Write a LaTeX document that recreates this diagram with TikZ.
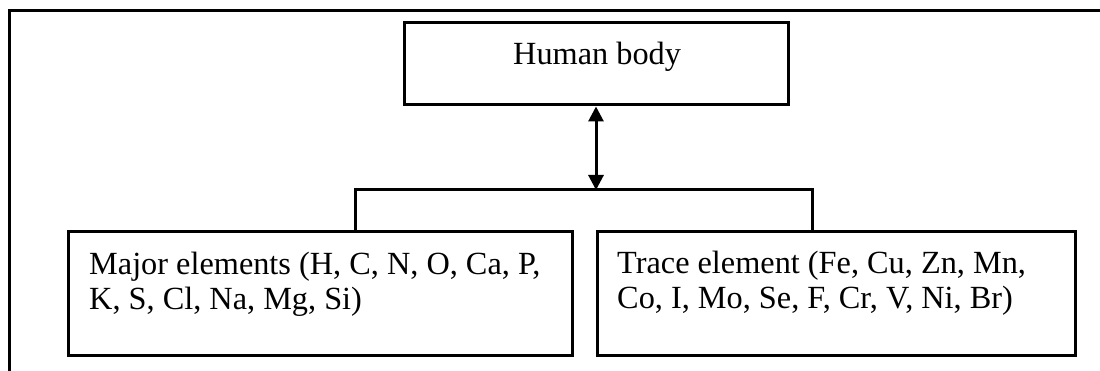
\documentclass[tikz,border=0pt]{standalone}
\usepackage{fontspec}
\setmainfont{Liberation Serif}
\usetikzlibrary{arrows.meta}
\begin{document}
\begin{tikzpicture}[x=1pt,y=-1pt,
  boxnode/.style={draw, line width=3pt, rectangle, inner sep=0pt},
  label/.style={inner sep=0pt, anchor=base west, align=left,
    font=\fontsize{32.3}{35.5}\selectfont},
  link/.style={line width=3pt},
  dblarrow/.style={line width=3pt, {Triangle[width=15pt,length=15pt]}-{Triangle[width=15pt,length=15pt]}}]
\useasboundingbox (0,0) rectangle (1100,371);
% outer frame (left and top only)
\draw[link] (9,371) -- (9,11) -- (1100,11);
% boxes
\node[boxnode, minimum width=384pt, minimum height=82pt] (top) at (596,64) {};
\node[boxnode, minimum width=504pt, minimum height=123pt] (left) at (320,293.5) {};
\node[boxnode, minimum width=478pt, minimum height=123pt] (right) at (836,293.5) {};
% texts (base anchor = baseline of the last line)
\node[label] (toptext) at (513,65) {Human body};
\node[label] (lefttext) at (89,309.5) {Major elements (H, C, N, O, Ca, P,\\K, S, Cl, Na, Mg, Si)};
\node[label] (righttext) at (617,308.5) {Trace element (Fe, Cu, Zn, Mn,\\Co, I, Mo, Se, F, Cr, V, Ni, Br)};
% connectors
\coordinate (bl) at (355,190);
\coordinate (br) at (812,190);
\draw[link] (left.north -| bl) -- (bl) -- (br) -- (right.north -| br);
\draw[dblarrow] (top.south) -- (top.south |- bl);
\end{tikzpicture}
\end{document}
